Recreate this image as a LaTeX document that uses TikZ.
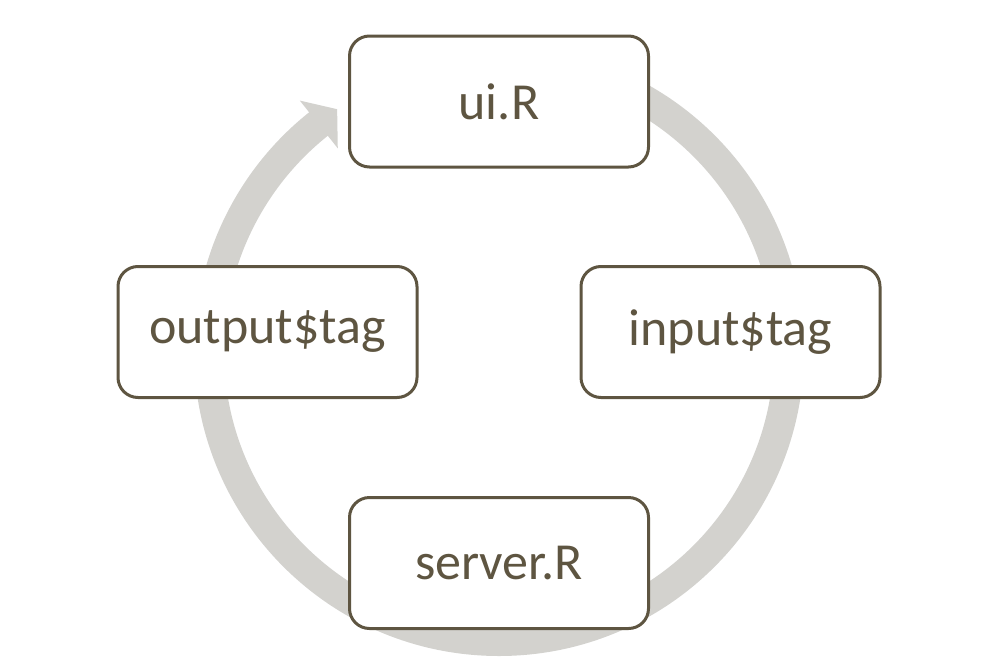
\documentclass[tikz,border=0pt]{standalone}
\usepackage{fontspec}
\setmainfont{Carlito}
\definecolor{bandgray}{HTML}{D3D2CE}
\definecolor{boxbrown}{HTML}{5E5541}
\tikzset{
  cyclebox/.style={draw=boxbrown, line width=1.5pt, fill=white, rounded corners=10pt,
    minimum width=149.5pt, minimum height=65.5pt, inner sep=0pt,
    text=boxbrown, font=\fontsize{26pt}{30pt}\selectfont},
  band/.style={draw=bandgray, line width=15pt, line cap=butt},
  headfill/.style={fill=bandgray, draw=none}
}
\begin{document}
\begin{tikzpicture}[x=0.5pt, y=0.5pt]
\useasboundingbox (0,0) rectangle (1000,666);
\coordinate (c) at (499,315);
% circular band
\draw[band] (c) ++(90:290) arc[start angle=90, end angle=-232, radius=290];
% arrowhead
\begin{scope}[shift={(c)}]
  \coordinate (hb1) at (128.5:320);
  \coordinate (htip) at (123.8:291);
  \coordinate (hb2) at (128.5:259);
  \fill[headfill] (hb1) -- (htip) -- (hb2) -- cycle;
\end{scope}
% boxes
\node[cyclebox] (ui) at (499,564.5) {ui.R};
\node[cyclebox] (output) at (267.5,334) {output\$tag};
\node[cyclebox] (input) at (730.5,334) {input\$tag};
\node[cyclebox] (server) at (499,103) {server.R};
\end{tikzpicture}
\end{document}
